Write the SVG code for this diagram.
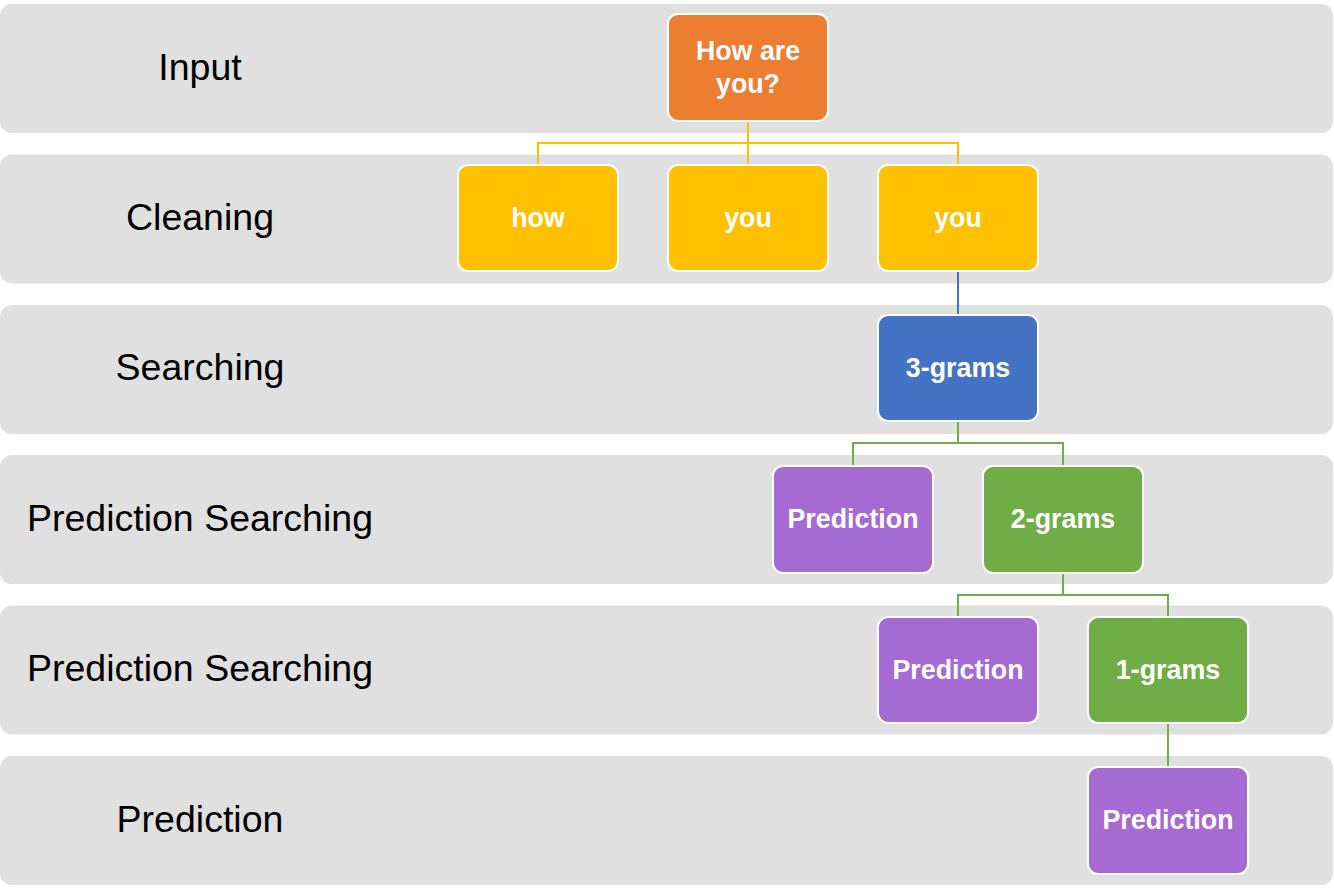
<svg xmlns="http://www.w3.org/2000/svg" width="1334" height="889" viewBox="0 0 1334 889">
  <style>
    .band { fill: #E0E0E0; }
    .lane { font-family: "Liberation Sans", Arial, sans-serif; font-size: 37.5px; fill: #000; text-anchor: middle; }
    .box { stroke: #FFFFFF; stroke-width: 2; }
    .lbl { font-family: "Liberation Sans", Arial, sans-serif; font-size: 26.8px; font-weight: bold; fill: #FFFFFF; text-anchor: middle; }
    .orange { fill: #ED7D31; }
    .yellow { fill: #FFC000; }
    .blue { fill: #4472C4; }
    .purple { fill: #A66BD3; }
    .green { fill: #70AD47; }
    .conn { fill: none; stroke-width: 2; }
  </style>

  <!-- stage bands -->
  <g id="bands">
    <rect class="band" x="0" y="4" width="1333" height="129" rx="12"/>
    <rect class="band" x="0" y="154.5" width="1333" height="129" rx="12"/>
    <rect class="band" x="0" y="305" width="1333" height="129" rx="12"/>
    <rect class="band" x="0" y="455" width="1333" height="129" rx="12"/>
    <rect class="band" x="0" y="605.5" width="1333" height="129" rx="12"/>
    <rect class="band" x="0" y="756" width="1333" height="129" rx="12"/>
  </g>

  <!-- stage titles -->
  <g id="lanes">
    <text class="lane" x="200" y="80">Input</text>
    <text class="lane" x="200" y="230">Cleaning</text>
    <text class="lane" x="200" y="380">Searching</text>
    <text class="lane" x="200" y="531">Prediction Searching</text>
    <text class="lane" x="200" y="681">Prediction Searching</text>
    <text class="lane" x="200" y="832">Prediction</text>
  </g>

  <!-- connectors -->
  <g id="connectors">
    <path class="conn" stroke="#FFC000" d="M748 121 V143 M538 165 V143 H958 V165 M748 143 V165"/>
    <path class="conn" stroke="#4472C4" d="M958 271 V315"/>
    <path class="conn" stroke="#70AD47" d="M958 421 V443 M853 466 V443 H1063 V466"/>
    <path class="conn" stroke="#70AD47" d="M1063 573 V595 M958 617 V595 H1168 V617"/>
    <path class="conn" stroke="#70AD47" d="M1168 723 V767"/>
  </g>

  <!-- nodes -->
  <g id="node-input">
    <rect class="box orange" x="668" y="14" width="160" height="107" rx="10"/>
    <text class="lbl" x="748" y="60">How are</text>
    <text class="lbl" x="748" y="93">you?</text>
  </g>
  <g id="node-how">
    <rect class="box yellow" x="458" y="165" width="160" height="106" rx="10"/>
    <text class="lbl" x="538" y="227">how</text>
  </g>
  <g id="node-you1">
    <rect class="box yellow" x="668" y="165" width="160" height="106" rx="10"/>
    <text class="lbl" x="748" y="227">you</text>
  </g>
  <g id="node-you2">
    <rect class="box yellow" x="878" y="165" width="160" height="106" rx="10"/>
    <text class="lbl" x="958" y="227">you</text>
  </g>
  <g id="node-3grams">
    <rect class="box blue" x="878" y="315" width="160" height="106" rx="10"/>
    <text class="lbl" x="958" y="377">3-grams</text>
  </g>
  <g id="node-pred1">
    <rect class="box purple" x="773" y="466" width="160" height="107" rx="10"/>
    <text class="lbl" x="853" y="528">Prediction</text>
  </g>
  <g id="node-2grams">
    <rect class="box green" x="983" y="466" width="160" height="107" rx="10"/>
    <text class="lbl" x="1063" y="528">2-grams</text>
  </g>
  <g id="node-pred2">
    <rect class="box purple" x="878" y="617" width="160" height="106" rx="10"/>
    <text class="lbl" x="958" y="679">Prediction</text>
  </g>
  <g id="node-1grams">
    <rect class="box green" x="1088" y="617" width="160" height="106" rx="10"/>
    <text class="lbl" x="1168" y="679">1-grams</text>
  </g>
  <g id="node-pred3">
    <rect class="box purple" x="1088" y="767" width="160" height="107" rx="10"/>
    <text class="lbl" x="1168" y="829">Prediction</text>
  </g>
</svg>
